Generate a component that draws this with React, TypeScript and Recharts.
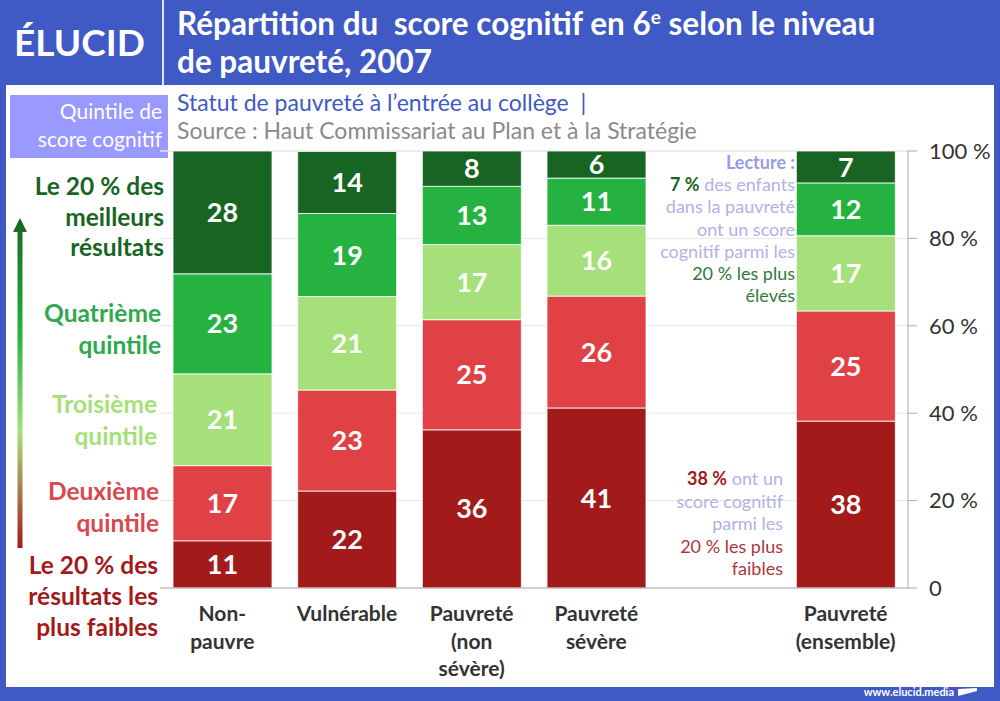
import React from "react";
import { Bar, BarChart, CartesianGrid, LabelList, XAxis, YAxis } from "recharts";

const CATEGORIES = ["Non-pauvre", "Vulnérable", "Pauvreté (non sévère)", "Pauvreté sévère", "", "Pauvreté (ensemble)"];
const CATEGORY_LINES = [
  ["Non-", "pauvre"],
  ["Vulnérable"],
  ["Pauvreté", "(non", "sévère)"],
  ["Pauvreté", "sévère"],
  [],
  ["Pauvreté", "(ensemble)"],
];

// quintile shares, labels show them rounded
const Q1 = [10.8, 22.2, 36.2, 41.2, null, 38.2];
const Q2 = [17.2, 23.1, 25.2, 25.6, null, 25.2];
const Q3 = [21, 21.4, 17.2, 16.2, null, 17.2];
const Q4 = [22.9, 19, 13.3, 10.8, null, 12.1];
const Q5 = [28.1, 14.2, 8.1, 6.2, null, 7.3];

const Y_TICKS = [0, 20, 40, 60, 80, 100];

const BLUE = "#3f59c5";
const DARK_GREEN = "#186523";
const GREEN = "#26b240";
const LIGHT_GREEN = "#a6e07a";
const RED = "#df4144";
const DARK_RED = "#a31a1a";
const LILAC = "#b1b1e6";
const FONT = "Lato, sans-serif";

const SERIES = [
  { key: "q1", color: DARK_RED },
  { key: "q2", color: RED },
  { key: "q3", color: LIGHT_GREEN },
  { key: "q4", color: GREEN },
  { key: "q5", color: DARK_GREEN },
];

const chartData = CATEGORIES.map((name, i) => ({
  name,
  q1: Q1[i],
  q2: Q2[i],
  q3: Q3[i],
  q4: Q4[i],
  q5: Q5[i],
}));

const LEGEND_LABELS = [
  { lines: ["Le 20 % des", "meilleurs", "résultats"], color: DARK_GREEN, top: 171, right: 836, lh: 30.5 },
  { lines: ["Quatrième", "quintile"], color: "#2fa84f", top: 297, right: 839, lh: 32 },
  { lines: ["Troisième", "quintile"], color: LIGHT_GREEN, top: 388, right: 843, lh: 32 },
  { lines: ["Deuxième", "quintile"], color: "#d9484e", top: 475, right: 841, lh: 32 },
  { lines: ["Le 20 % des", "résultats les", "plus faibles"], color: DARK_RED, top: 549, right: 842, lh: 31 },
];

function CategoryTick({ x, y, index }: any) {
  const lines = CATEGORY_LINES[index] || [];
  return (
    <text x={x} textAnchor="middle" fill="#333" fontSize={21} fontWeight={700} fontFamily={FONT}>
      {lines.map((line, i) => (
        <tspan key={line} x={x} y={y + 25 + i * 27.5}>
          {line}
        </tspan>
      ))}
    </text>
  );
}

function GradientArrow() {
  return (
    <svg width={30} height={345} style={{ position: "absolute", left: 5, top: 215 }}>
      <defs>
        <linearGradient id="arrowGrad" x1="0" y1="0" x2="0" y2="1">
          <stop offset="0%" stopColor={DARK_GREEN} />
          <stop offset="35%" stopColor={GREEN} />
          <stop offset="65%" stopColor={LIGHT_GREEN} />
          <stop offset="100%" stopColor={DARK_RED} />
        </linearGradient>
      </defs>
      <path d="M15 3 L22 17 L17.5 17 L17.5 333 L12.5 333 L12.5 17 L8 17 Z" fill="url(#arrowGrad)" />
    </svg>
  );
}

export default function App() {
  return (
    <div style={{ position: "absolute", left: 0, top: 0, width: 1000, height: 701, overflow: "hidden", background: BLUE, fontFamily: FONT }}>
      <div style={{ position: "absolute", left: 6, top: 85, width: 988, height: 602, background: "#fff" }} />
      <div style={{ position: "absolute", left: 162, top: 0, width: 1.5, height: 85, background: "#dfe4f6" }} />

      <div style={{ position: "absolute", left: 14, top: 18, color: "#fff", fontSize: 37, fontWeight: 700, lineHeight: "48px" }}>
        ÉLUCID
      </div>
      <div style={{ position: "absolute", left: 177, top: 4, width: 810, color: "#fff", fontSize: 31.5, fontWeight: 700, lineHeight: "38px", whiteSpace: "pre" }}>
        {"Répartition du  score cognitif en 6"}
        <sup style={{ fontSize: 19, lineHeight: 0 }}>e</sup>
        {" selon le niveau\nde pauvreté, 2007"}
      </div>
      <div style={{ position: "absolute", left: 177, top: 88, color: BLUE, fontSize: 23, lineHeight: "28px", whiteSpace: "pre" }}>
        {"Statut de pauvreté à l’entrée au collège  |"}
      </div>
      <div style={{ position: "absolute", left: 177, top: 116, color: "#8a8a8a", fontSize: 23, lineHeight: "28px", whiteSpace: "pre" }}>
        Source : Haut Commissariat au Plan et à la Stratégie
      </div>

      <div style={{ position: "absolute", left: 10, top: 95, width: 152, height: 61, paddingRight: 6, background: "#9999ff", color: "#fff", fontSize: 21, lineHeight: "28px", textAlign: "right", paddingTop: 2, boxSizing: "content-box" }}>
        Quintile de
        <br />
        score cognitif
      </div>

      <BarChart
        width={1000}
        height={701}
        data={chartData}
        margin={{ top: 151, right: 0, bottom: 0, left: 160 }}
        barSize={99}
        style={{ position: "absolute", left: 0, top: 0 }}
      >
        <CartesianGrid vertical={false} stroke="#e6e6e6" />
        <XAxis dataKey="name" height={113} interval={0} axisLine={{ stroke: "#aaa" }} tickLine={false} tick={<CategoryTick />} />
        <YAxis
          orientation="right"
          width={92}
          domain={[0, 100]}
          ticks={Y_TICKS}
          axisLine={{ stroke: "#aaa" }}
          tickLine={{ stroke: "#aaa" }}
          tickSize={9}
          tickMargin={12}
          tick={{ fill: "#333", fontSize: 22, fontFamily: FONT }}
          tickFormatter={(v) => (v === 0 ? "0" : `${v} %`)}
        />
        {SERIES.map((s) => (
          <Bar key={s.key} dataKey={s.key} stackId="a" fill={s.color} stroke="#fff" strokeWidth={0.8} isAnimationActive={false}>
            <LabelList
              dataKey={s.key}
              position="center"
              fill="#fff"
              fontSize={27}
              fontWeight={700}
              fontFamily={FONT}
              formatter={(v: any) => (v == null ? "" : Math.round(v))}
            />
          </Bar>
        ))}
      </BarChart>

      <GradientArrow />

      {LEGEND_LABELS.map((l) => (
        <div key={l.top} style={{ position: "absolute", right: l.right, top: l.top, color: l.color, fontSize: 24.5, fontWeight: 700, lineHeight: `${l.lh}px`, textAlign: "right", whiteSpace: "nowrap" }}>
          {l.lines.map((line) => (
            <div key={line}>{line}</div>
          ))}
        </div>
      ))}

      <div style={{ position: "absolute", right: 205, top: 151, color: LILAC, fontSize: 18, lineHeight: "22.2px", textAlign: "right", whiteSpace: "nowrap" }}>
        <div style={{ fontWeight: 700, color: "#9a9ae6" }}>Lecture :</div>
        <div><b style={{ color: DARK_GREEN }}>7 %</b> des enfants</div>
        <div>dans la pauvreté</div>
        <div>ont un score</div>
        <div>cognitif parmi les</div>
        <div style={{ color: "#2f7a3c" }}>20 % les plus</div>
        <div style={{ color: "#2f7a3c" }}>élevés</div>
      </div>

      <div style={{ position: "absolute", right: 217, top: 467, color: LILAC, fontSize: 18, lineHeight: "22.5px", textAlign: "right", whiteSpace: "nowrap" }}>
        <div><b style={{ color: DARK_RED }}>38 %</b> ont un</div>
        <div>score cognitif</div>
        <div>parmi les</div>
        <div style={{ color: "#a83a3a" }}>20 % les plus</div>
        <div style={{ color: "#a83a3a" }}>faibles</div>
      </div>

      <div style={{ position: "absolute", right: 46, top: 685, color: "#fff", fontSize: 11, fontWeight: 700, lineHeight: "14px" }}>
        www.elucid.media
      </div>
      <svg width={22} height={20} style={{ position: "absolute", left: 957, top: 678 }}>
        <path d="M1 9 L20 2 L20 8 Z M1 11 L20 10 L20 13 L1 18 Z" fill="#fff" />
      </svg>
    </div>
  );
}
